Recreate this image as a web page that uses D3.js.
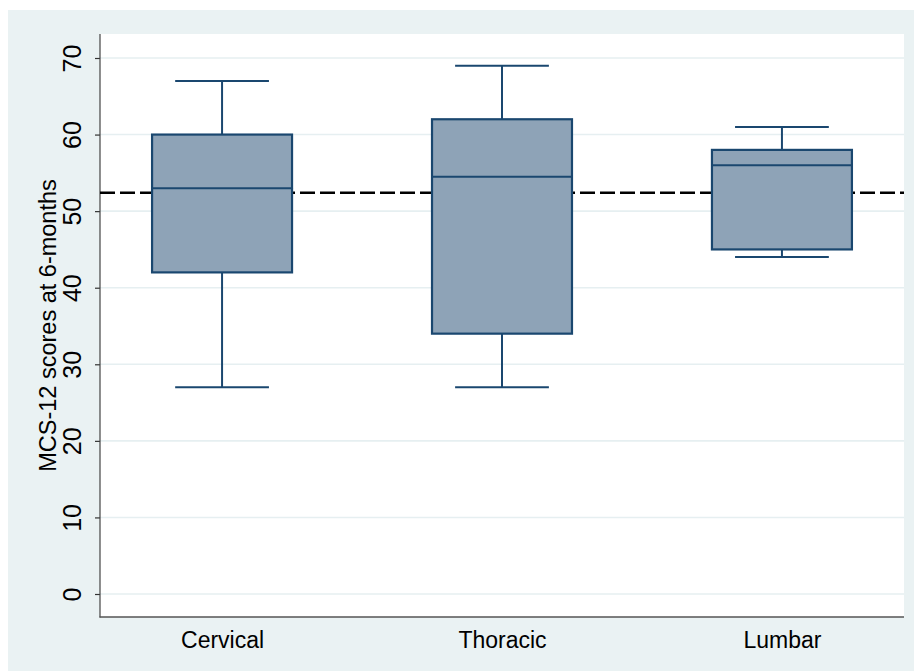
<!DOCTYPE html>
<html>
<head>
<meta charset="utf-8">
<script src="https://cdn.jsdelivr.net/npm/d3@7"></script>
<style>
  html, body { margin: 0; padding: 0; background: #ffffff; }
  svg { display: block; font-family: "Liberation Sans", Arial, sans-serif; }
  svg text { font-family: "Liberation Sans", Arial, sans-serif; }
</style>
</head>
<body>
<svg id="chart" width="914" height="671"></svg>
<script>
// ---- data ----
const categories = ["Cervical", "Thoracic", "Lumbar"];
const whiskerLow = [27, 27, 44];
const q1 = [42, 34, 45];
const median = [53, 54.5, 56];
const q3 = [60, 62, 58];
const whiskerHigh = [67, 69, 61];
const referenceLine = 52.4;
const yTicks = [0, 10, 20, 30, 40, 50, 60, 70];
const yLabel = "MCS-12 scores at 6-months";

// ---- layout ----
const svg = d3.select("#chart");
const W = 914, H = 671;
const plot = { left: 100, right: 904, top: 34, bottom: 617 };

svg.append("rect").attr("x", 8).attr("y", 10).attr("width", W - 8).attr("height", H - 10)
  .attr("fill", "#eaf2f3");
svg.append("rect").attr("x", plot.left).attr("y", plot.top)
  .attr("width", plot.right - plot.left).attr("height", plot.bottom - plot.top)
  .attr("fill", "#ffffff");

const y = d3.scaleLinear().domain([0, 70]).range([594, 58]);
const x = d3.scalePoint().domain(categories).range([plot.left, plot.right]).padding(0.436);
const step = x.step();
const boxW = step * 0.5;
const capW = step * 0.335;

// gridlines
svg.append("g").selectAll("line").data(yTicks).join("line")
  .attr("x1", plot.left).attr("x2", plot.right)
  .attr("y1", d => y(d)).attr("y2", d => y(d))
  .attr("stroke", "#e6eff1").attr("stroke-width", 1.6);

// y axis
const yAxis = svg.append("g").attr("transform", `translate(${plot.left},0)`)
  .call(d3.axisLeft(y).tickValues(yTicks).tickSize(5).tickPadding(8));
yAxis.attr("font-family", null).attr("font-size", null);
yAxis.select(".domain").remove();
yAxis.selectAll(".tick line").attr("stroke", "#333").attr("stroke-width", 1.2);
yAxis.selectAll(".tick text")
  .style("font-size", "25px").attr("fill", "#000")
  .attr("transform", "rotate(-90)")
  .attr("x", 0).attr("y", -19.5)
  .attr("dy", "0")
  .attr("text-anchor", "middle");
svg.append("line").attr("x1", plot.left).attr("x2", plot.left)
  .attr("y1", plot.top).attr("y2", plot.bottom + 0.5)
  .attr("stroke", "#444").attr("stroke-width", 1.2);

// y label
svg.append("text")
  .attr("transform", `translate(55.5, 325.5) rotate(-90)`)
  .attr("text-anchor", "middle").style("font-size", "23.5px").attr("fill", "#000")
  .text(yLabel);

// reference dashed line
svg.append("line")
  .attr("x1", plot.left).attr("x2", plot.right)
  .attr("y1", y(referenceLine)).attr("y2", y(referenceLine))
  .attr("stroke", "#000").attr("stroke-width", 2.4)
  .attr("stroke-dasharray", "15,5");

// boxes
const stroke = "#1a476f";
const data = categories.map((c, i) => ({
  c, lo: whiskerLow[i], q1: q1[i], med: median[i], q3: q3[i], hi: whiskerHigh[i]
}));
const g = svg.append("g").selectAll("g").data(data).join("g");
// whiskers
g.append("line").attr("x1", d => x(d.c)).attr("x2", d => x(d.c))
  .attr("y1", d => y(d.hi)).attr("y2", d => y(d.q3))
  .attr("stroke", stroke).attr("stroke-width", 2);
g.append("line").attr("x1", d => x(d.c)).attr("x2", d => x(d.c))
  .attr("y1", d => y(d.q1)).attr("y2", d => y(d.lo))
  .attr("stroke", stroke).attr("stroke-width", 2);
// caps
g.append("line").attr("x1", d => x(d.c) - capW / 2).attr("x2", d => x(d.c) + capW / 2)
  .attr("y1", d => y(d.hi)).attr("y2", d => y(d.hi))
  .attr("stroke", stroke).attr("stroke-width", 2);
g.append("line").attr("x1", d => x(d.c) - capW / 2).attr("x2", d => x(d.c) + capW / 2)
  .attr("y1", d => y(d.lo)).attr("y2", d => y(d.lo))
  .attr("stroke", stroke).attr("stroke-width", 2);
// box
g.append("rect").attr("x", d => x(d.c) - boxW / 2).attr("width", boxW)
  .attr("y", d => y(d.q3)).attr("height", d => y(d.q1) - y(d.q3))
  .attr("fill", "#8ea3b7").attr("stroke", stroke).attr("stroke-width", 2.2);
// median
g.append("line").attr("x1", d => x(d.c) - boxW / 2).attr("x2", d => x(d.c) + boxW / 2 + 1)
  .attr("y1", d => y(d.med)).attr("y2", d => y(d.med))
  .attr("stroke", stroke).attr("stroke-width", 2);

// x axis
const xAxis = svg.append("g").attr("transform", `translate(0,${plot.bottom})`)
  .call(d3.axisBottom(x).tickSize(0).tickPadding(15));
xAxis.attr("font-family", null).attr("font-size", null);
xAxis.select(".domain").remove();
xAxis.selectAll(".tick text").style("font-size", "23px").attr("fill", "#000");
svg.append("line").attr("x1", plot.left - 0.5).attr("x2", plot.right)
  .attr("y1", plot.bottom).attr("y2", plot.bottom)
  .attr("stroke", "#555").attr("stroke-width", 1.6);
</script>
</body>
</html>
